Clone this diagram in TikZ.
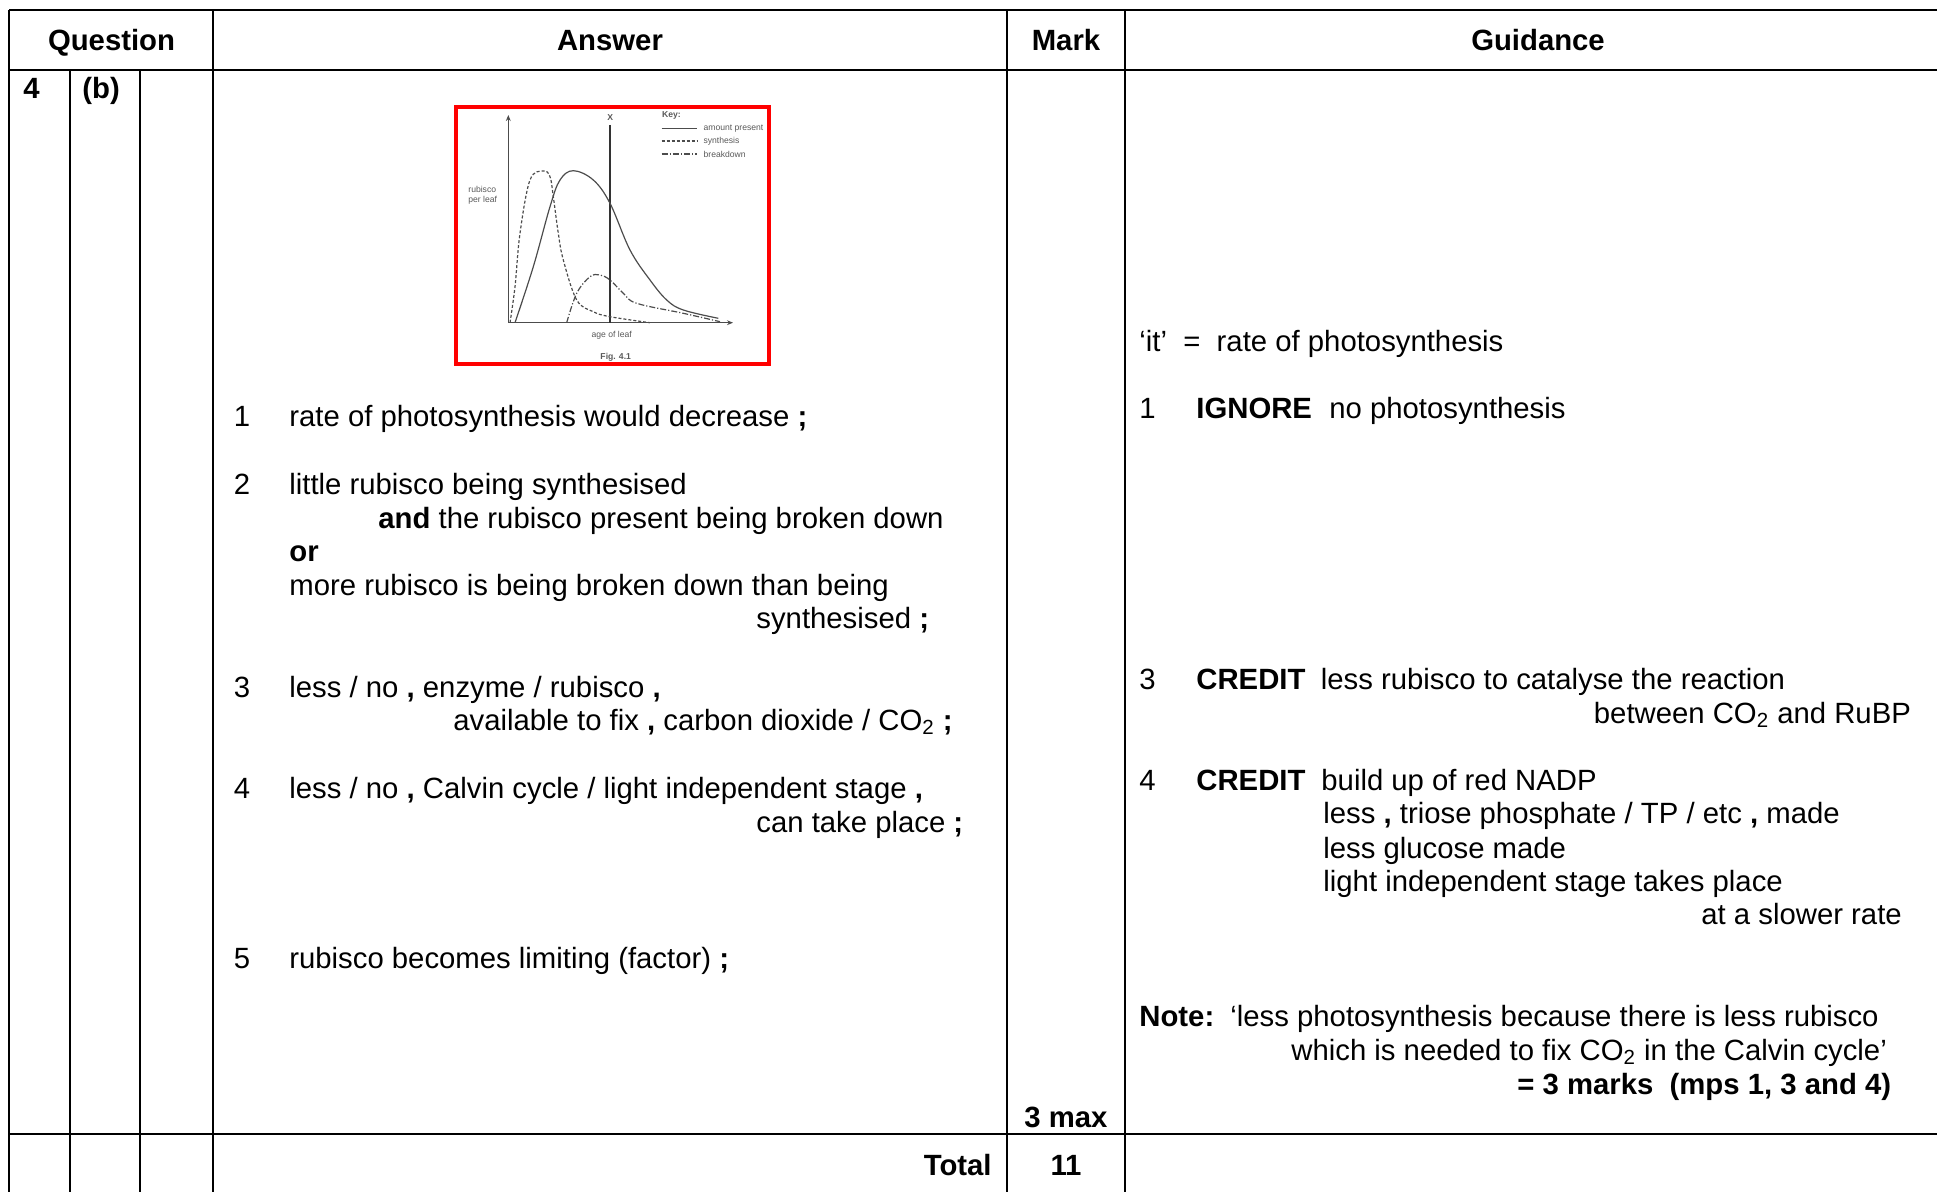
\documentclass[tikz,border=0pt]{standalone}
\usepackage{fontspec}
\setmainfont{Liberation Sans}
\usetikzlibrary{arrows.meta}
\newcommand{\msfont}{\fontsize{14.65}{16.9}\selectfont}
\newcommand{\mkcomma}{\textbf{,}}
\newcommand{\mksemi}{\textbf{;}}
\tikzset{
  txt/.style={anchor=base west,inner sep=0pt,font=\msfont},
  btxt/.style={anchor=base west,inner sep=0pt,font=\msfont\bfseries},
  hdr/.style={anchor=base,inner sep=0pt,font=\msfont\bfseries},
  rule/.style={line width=1.4pt},
  gridline/.style={line width=0.7pt},
  tiny/.style={inner sep=0pt,font=\fontsize{4.3}{5}\selectfont,text=black!65},
  curve/.style={black!70,line width=0.6pt},
}
\begin{document}
\begin{tikzpicture}[x=0.5pt,y=-0.5pt]
\useasboundingbox (0,0) rectangle (1937,1192);
% table rules
\draw[gridline] (9,10) -- (9,1192);
\foreach \c in {70,140} \draw[gridline] (\c,70) -- (\c,1192);
\foreach \c in {213,1007,1125} \draw[gridline] (\c,10) -- (\c,1192);
\foreach \r in {10,70,1134} \draw[rule] (9,\r) -- (1937,\r);
% header
\node[hdr] (hq) at (111.5,51) {Question};
\node[hdr] (ha) at (610,51) {Answer};
\node[hdr] (hm) at (1066,51) {Mark};
\node[hdr] (hg) at (1538,51) {Guidance};
\node[btxt] (qn) at (23,99) {4};
\node[btxt] (qp) at (82,99) {(b)};
% fig 4.1
\draw[red,line width=2pt] (456,107) rectangle (769,364);
\draw[curve,{Stealth[length=3pt,width=2.4pt]}-{Stealth[length=3pt,width=2.4pt]}] (508.3,115) |- (733,322.7);
\draw[black!80,line width=1pt] (610.3,125) -- (610.3,322.7);
\node[tiny,font=\fontsize{4.3}{5}\selectfont\bfseries] (xl) at (610.3,118) {X};
\node[tiny,anchor=west,font=\fontsize{4.3}{5}\selectfont\bfseries] (key) at (661.7,115) {Key:};
\draw[curve] (661.7,128.3) -- (697,128.3) node[tiny,anchor=west,xshift=3pt] (k1) {amount present};
\draw[curve,dash pattern=on 1.5pt off 1pt] (661.7,141) -- (697,141) node[tiny,anchor=west,xshift=3pt] (k2) {synthesis};
\draw[curve,dash pattern=on 3pt off 1pt on 0.6pt off 1pt] (661.7,154) -- (697,154) node[tiny,anchor=west,xshift=3pt] (k3) {breakdown};
\node[tiny,anchor=west,align=left] (yl) at (468,195) {rubisco\\per leaf};
\node[tiny] (xlab) at (611.7,335) {age of leaf};
\node[tiny,font=\fontsize{4.3}{5}\selectfont\bfseries] (fig) at (615.7,357) {Fig. 4.1};
\draw[curve] plot[smooth,tension=0.6] coordinates {(515,322.7) (533.3,266.7) (550,206.7) (560,180) (573.3,170.7) (593.3,180) (610,203.3) (630,250) (650,280) (666.7,300) (683.3,310) (718.3,318.3)};
\draw[curve,dash pattern=on 1.5pt off 1pt] plot[smooth,tension=0.6] coordinates {(510,322.7) (515,286.7) (520,233.3) (530,180) (543.3,171) (550,176.7) (553.3,196.7) (558.3,233.3) (563.3,260) (576.7,300) (593.3,311.7) (610,316.7) (650,322.7)};
\draw[curve,dash pattern=on 3pt off 1pt on 0.6pt off 1pt] plot[smooth,tension=0.6] coordinates {(566.7,322.7) (576.7,293.3) (590,276.7) (600,275) (610,280) (623.3,293.3) (636.7,303.3) (683.3,313.3) (720,321.7)};
% answer
\node[txt] (n1) at (233.5,426.5) {1};
\node[txt] (a1) at (289,426.5) {rate of photosynthesis would decrease \mksemi};
\node[txt] (n2) at (233.5,494) {2};
\node[txt] (a2a) at (289,494) {little rubisco being synthesised};
\node[txt] (a2b) at (378,528) {\textbf{and} the rubisco present being broken down};
\node[btxt] (a2c) at (289,561) {or};
\node[txt] (a2d) at (289,595) {more rubisco is being broken down than being};
\node[txt] (a2e) at (756,628) {synthesised \mksemi};
\node[txt] (n3) at (233.5,697) {3};
\node[txt] (a3a) at (289,697) {less / no \mkcomma{} enzyme / rubisco \mkcomma};
\node[txt] (a3b) at (453,730.5) {available to fix \mkcomma{} carbon dioxide / CO\textsubscript{2} \mksemi};
\node[txt] (n4) at (233.5,798) {4};
\node[txt] (a4a) at (289,798) {less / no \mkcomma{} Calvin cycle / light independent stage \mkcomma};
\node[txt] (a4b) at (756,832) {can take place \mksemi};
\node[txt] (n5) at (233.5,968) {5};
\node[txt] (a5) at (289,968) {rubisco becomes limiting (factor) \mksemi};
% mark
\node[hdr] (mx) at (1066,1127) {3 max};
\node[hdr,anchor=base east] (tot) at (992,1175.5) {Total};
\node[hdr] (tm) at (1066,1175.5) {11};
% guidance
\node[txt] (g0) at (1139,351.5) {‘it’~~=~~rate of photosynthesis};
\node[txt] (g1n) at (1139,418) {1};
\node[btxt] (g1k) at (1196,418) {IGNORE};
\node[txt] (g1) at (1329,418) {no photosynthesis};
\node[txt] (g3n) at (1139,689) {3};
\node[btxt] (g3k) at (1196,689) {CREDIT};
\node[txt] (g3a) at (1320.5,689) {less rubisco to catalyse the reaction};
\node[txt] (g3b) at (1593.5,723) {between CO\textsubscript{2} and RuBP};
\node[txt] (g4n) at (1139,790) {4};
\node[btxt] (g4k) at (1196,790) {CREDIT};
\node[txt] (g4a) at (1321,790) {build up of red NADP};
\node[txt] (g4b) at (1323,823) {less \mkcomma{} triose phosphate / TP / etc \mkcomma{} made};
\node[txt] (g4c) at (1323,858) {less glucose made};
\node[txt] (g4d) at (1323,891) {light independent stage takes place};
\node[txt] (g4e) at (1701,924.5) {at a slower rate};
\node[btxt] (nk) at (1139,1026) {Note:};
\node[txt] (nt1) at (1230,1026) {‘less photosynthesis because there is less rubisco};
\node[txt] (nt2) at (1291,1060.5) {which is needed to fix CO\textsubscript{2} in the Calvin cycle’};
\node[btxt] (nt3) at (1517,1094) {= 3 marks~~(mps 1, 3 and 4)};
\end{tikzpicture}
\end{document}
